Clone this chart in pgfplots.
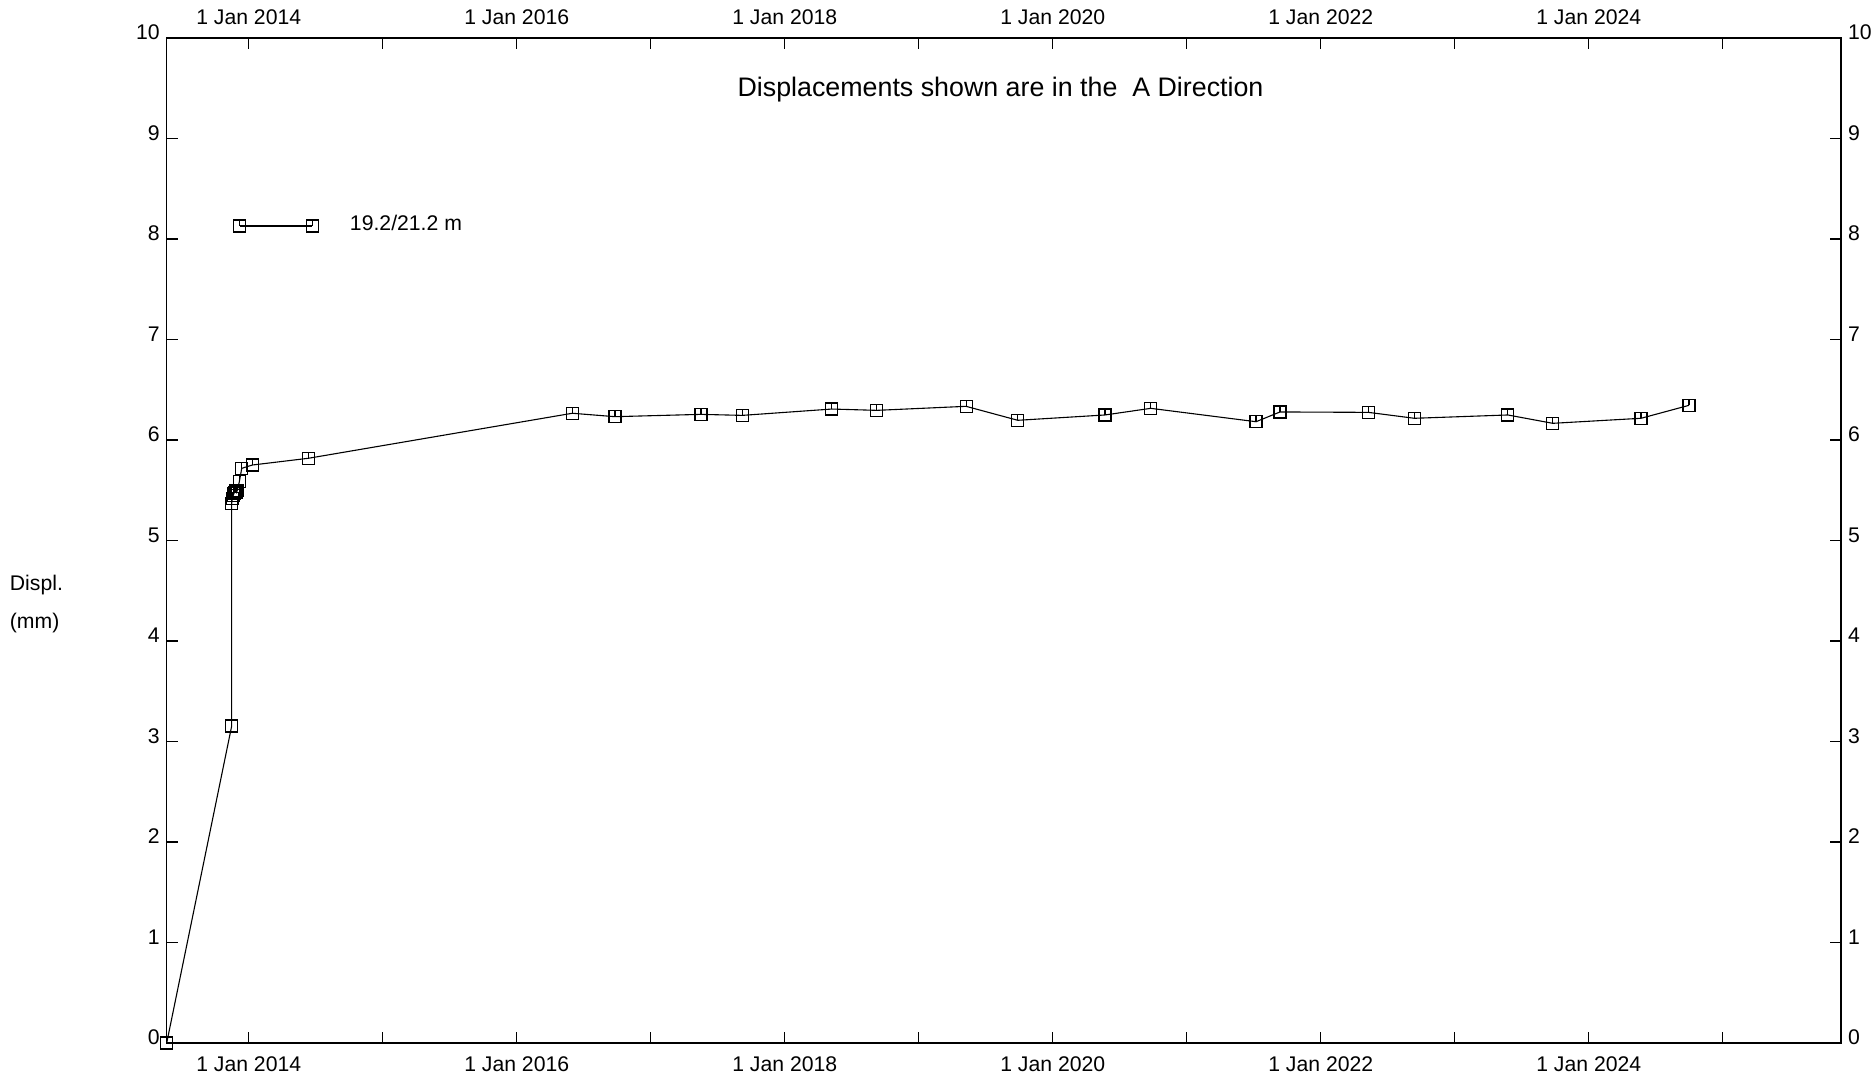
\documentclass[border=0pt]{standalone}
\usepackage{pgfplots}
\pgfplotsset{compat=1.18}
\usepackage{fontspec}
\setmainfont{Liberation Sans}
\pgfdeclareplotmark{sqtick}{%
  \pgfpathrectangle{\pgfpoint{-\pgfplotmarksize}{-\pgfplotmarksize}}{\pgfpoint{2\pgfplotmarksize}{2\pgfplotmarksize}}%
  \pgfusepathqstroke
  \pgfpathmoveto{\pgfpoint{0pt}{\pgfplotmarksize}}%
  \pgfpathlineto{\pgfpoint{0pt}{0pt}}%
  \pgfusepathqstroke}
\newcommand{\tfont}{\fontsize{10.6}{12.7}\selectfont}
\pgfplotsset{
  common/.style={
    scale only axis, width=837.2pt, height=502.5pt,
    at={(0,0)}, anchor=south west,
    xmin=2013.388, xmax=2025.883, ymin=0, ymax=10,
    xtick={2014,2016,2018,2020,2022,2024},
    xticklabels={1 Jan 2014,1 Jan 2016,1 Jan 2018,1 Jan 2020,1 Jan 2022,1 Jan 2024},
    minor xtick={2015,2017,2019,2021,2023,2025},
    ytick={0,1,...,10},
    tick align=inside,
    major tick length=5.5pt, minor tick length=5.5pt,
    every tick/.style={black, line width=0.55pt},
    axis line style={line width=0.65pt},
    /pgf/number format/assume math mode=true,
    tick label style={font=\tfont},
  }
}
\begin{document}
\begin{tikzpicture}
\path[use as bounding box] (-83.35pt,-17pt) rectangle (853.65pt,521.5pt);
\begin{axis}[common,
  xticklabel pos=lower, yticklabel pos=left,
  xticklabel style={yshift=-3.5pt},
  yticklabel style={anchor=base east, yshift=-0.8pt},
  clip=false,
  legend style={draw=none, fill=none, inner sep=0pt, at={(rel axis cs:0,0)}, anchor=west,
    xshift=33.2pt, yshift=408.5pt, column sep=15.8pt,
    nodes={inner sep=0pt, font=\tfont}},
  legend image code/.code={\draw[mark repeat=1] plot coordinates {(0pt,0pt) (36.45pt,0pt)};},
]
\addplot[black, line width=0.55pt, mark=sqtick, mark size=3pt, mark options={line width=0.55pt}] coordinates {
(2013.388,0)
(2013.873,3.154)
(2013.873,5.37)
(2013.878,5.42)
(2013.885,5.45)
(2013.890,5.47)
(2013.895,5.48)
(2013.900,5.49)
(2013.905,5.50)
(2013.910,5.48)
(2013.915,5.50)
(2013.930,5.585)
(2013.948,5.718)
(2014.027,5.751)
(2014.445,5.818)
(2016.415,6.266)
(2016.733,6.232)
(2017.375,6.255)
(2017.684,6.245)
(2018.351,6.308)
(2018.687,6.295)
(2019.353,6.335)
(2019.739,6.196)
(2020.390,6.249)
(2020.731,6.315)
(2021.517,6.182)
(2021.696,6.279)
(2022.355,6.275)
(2022.699,6.216)
(2023.396,6.249)
(2023.731,6.166)
(2024.390,6.216)
(2024.748,6.345)
};
\addlegendentry{\raisebox{1.8pt}{19.2/21.2 m}}
\node[anchor=base, font=\fontsize{13.4}{16}\selectfont] at (rel axis cs:0.498,1) [yshift=-29.3pt] {Displacements shown are in the \ A Direction};
\node[anchor=west, align=left, inner sep=0pt, font=\tfont] at (rel axis cs:0,0.4367) [xshift=-78.6pt] {Displ.\\[6pt](mm)};
\end{axis}
\begin{axis}[common,
  xticklabel pos=upper, yticklabel pos=right,
  xticklabel style={yshift=3pt},
  yticklabel style={anchor=base west, yshift=-0.8pt},
]
\end{axis}
\end{tikzpicture}
\end{document}
